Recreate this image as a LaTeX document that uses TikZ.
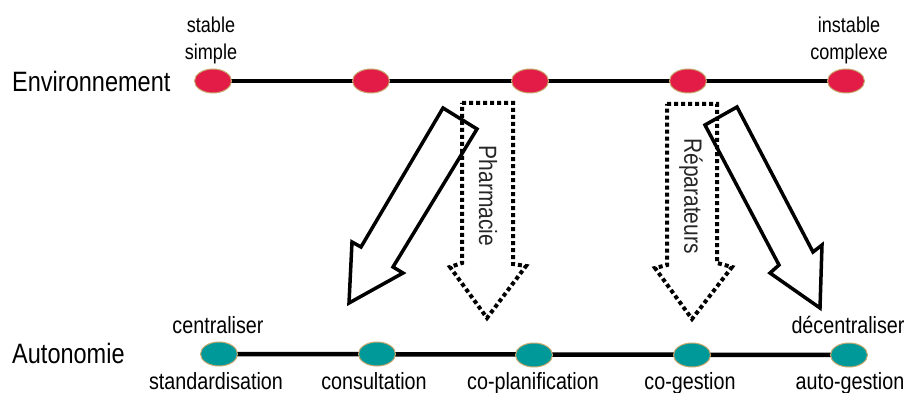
\documentclass[tikz,border=0pt]{standalone}
\usepackage{fontspec}
\setmainfont{Liberation Sans}[FakeStretch=0.84]
\usetikzlibrary{shapes.geometric}
\definecolor{envred}{RGB}{227,27,71}
\definecolor{autoteal}{RGB}{0,153,153}
\definecolor{rimgold}{RGB}{200,168,110}

\begin{document}
\begin{tikzpicture}[x=1pt,y=-1pt,
  dot/.style={ellipse, draw=rimgold, line width=1pt, minimum width=37pt, minimum height=24pt, inner sep=0pt},
  envdot/.style={dot, fill=envred},
  autodot/.style={dot, fill=autoteal},
  axisline/.style={line width=4.5pt, black},
  lbl/.style={inner sep=0pt, anchor=base, font=\fontsize{21.5}{25}\selectfont},
  blbl/.style={inner sep=0pt, anchor=base, font=\fontsize{23.5}{27}\selectfont},
  rowname/.style={inner sep=0pt, anchor=base west, font=\fontsize{28}{32}\selectfont},
  bigarrow/.style={draw, line width=3.5pt, line join=miter},
  dotarrow/.style={draw, line width=4pt, dash pattern=on 4pt off 3pt},
  sidetext/.style={inner sep=0pt, rotate=-90, text=black!85, font=\fontsize{25}{30}\selectfont},
]
\useasboundingbox (0,0) rectangle (915,393);

% environment scale
\node[rowname] (envname) at (12,92) {Environnement};
\draw[axisline] (213,81) -- (846,81);
\node[envdot] (e1) at (213,81) {};
\node[envdot] (e2) at (371,81) {};
\node[envdot] (e3) at (530,81) {};
\node[envdot] (e4) at (688,81) {};
\node[envdot] (e5) at (846,81) {};
\node[lbl] (stab) at (211,33) {stable};
\node[lbl] (simp) at (211,60) {simple};
\node[lbl] (instab) at (849,33) {instable};
\node[lbl] (compl) at (849,60) {complexe};

% autonomy scale
\node[rowname] (autoname) at (12,363) {Autonomie};
\draw[axisline] (219,354) -- (849,355);
\node[autodot] (a1) at (219,354) {};
\node[autodot] (a2) at (377,354) {};
\node[autodot] (a3) at (534,355) {};
\node[autodot] (a4) at (692,355) {};
\node[autodot] (a5) at (849,355) {};
\node[blbl] (centr) at (218,333) {centraliser};
\node[blbl] (decentr) at (848,333) {décentraliser};
\node[blbl] (l1) at (216,389) {standardisation};
\node[blbl] (l2) at (374,389) {consultation};
\node[blbl] (l3) at (533,389) {co-planification};
\node[blbl] (l4) at (690,389) {co-gestion};
\node[blbl] (l5) at (850,389) {auto-gestion};

% hollow trend arrows
\draw[bigarrow] (443,108) -- (477,129) -- (393,267) -- (403,273) -- (349,303)
  -- (352,242) -- (361,247) -- cycle;
\draw[bigarrow] (705,125) -- (737,107) -- (813,252) -- (822,245) -- (820,308)
  -- (770,273) -- (779,265) -- cycle;

% dotted case arrows
\draw[dotarrow] (462,103) -- (513,103) -- (513,264) -- (526,266) -- (487,318)
  -- (450,267) -- (462,263) -- cycle;
\node[sidetext] (pharma) at (488,196) {Pharmacie};
\draw[dotarrow] (667,104) -- (717,104) -- (717,263) -- (732,267) -- (692,319)
  -- (655,268) -- (667,265) -- cycle;
\node[sidetext] (repar) at (691,196) {Réparateurs};
\end{tikzpicture}
\end{document}
